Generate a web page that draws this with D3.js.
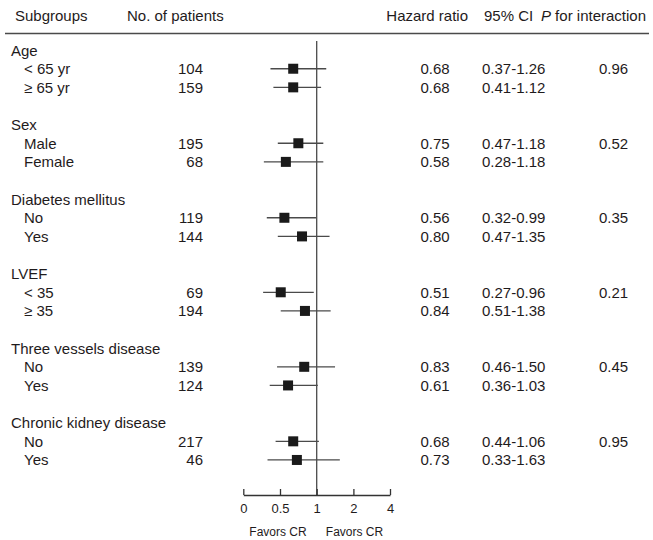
<!DOCTYPE html>
<html>
<head>
<meta charset="utf-8">
<script src="https://cdn.jsdelivr.net/npm/d3@7"></script>
<style>
  html, body { margin: 0; padding: 0; background: #fff; }
  svg text { font-family: "Liberation Sans", Arial, Helvetica, sans-serif; fill: #1f1b1c; }
</style>
</head>
<body>
<svg id="chart" width="653" height="540"></svg>
<script>
// ---- Data ----
const groups = ["Age", "Sex", "Diabetes mellitus", "LVEF", "Three vessels disease", "Chronic kidney disease"];
const pInteraction = ["0.96", "0.52", "0.35", "0.21", "0.45", "0.95"];
const subgroups = ["< 65 yr", "\u2265 65 yr", "Male", "Female", "No", "Yes", "< 35", "\u2265 35", "No", "Yes", "No", "Yes"];
const patients = [104, 159, 195, 68, 119, 144, 69, 194, 139, 124, 217, 46];
const hazardRatio = [0.68, 0.68, 0.75, 0.58, 0.56, 0.80, 0.51, 0.84, 0.83, 0.61, 0.68, 0.73];
const ciLow = [0.37, 0.41, 0.47, 0.28, 0.32, 0.47, 0.27, 0.51, 0.46, 0.36, 0.44, 0.33];
const ciHigh = [1.26, 1.12, 1.18, 1.18, 0.99, 1.35, 0.96, 1.38, 1.50, 1.03, 1.06, 1.63];
const tickValues = [0, 0.5, 1, 2, 4];
const tickLabels = ["0", "0.5", "1", "2", "4"];
const favorLabels = ["Favors CR", "Favors CR"];

// ---- Layout ----
const svg = d3.select("#chart");
const x = d3.scaleLinear().domain(tickValues).range([243.3, 280, 316.7, 353.4, 390]);
// row index -> text baseline
const rowBase = d3.scaleLinear().domain([0, 1]).range([55.6, 55.6 + 18.63]);
const markOffset = -5.5;

// Header
const hdr = svg.append("g").attr("font-size", 15);
hdr.append("text").attr("x", 15).attr("y", 21).text("Subgroups");
hdr.append("text").attr("x", 127).attr("y", 21).text("No. of patients");
hdr.append("text").attr("x", 468).attr("y", 21).attr("text-anchor", "end").text("Hazard ratio");
hdr.append("text").attr("x", 484).attr("y", 21).text("95% CI");
const pt = hdr.append("text").attr("x", 646).attr("y", 21).attr("text-anchor", "end");
pt.append("tspan").attr("font-style", "italic").text("P");
pt.append("tspan").text(" for interaction");

svg.append("line").attr("x1", 5).attr("x2", 649).attr("y1", 33.5).attr("y2", 33.5)
  .attr("stroke", "#4a4a4a").attr("stroke-width", 1.4);

// Reference line at HR = 1
svg.append("line").attr("x1", x(1)).attr("x2", x(1)).attr("y1", 41).attr("y2", 495)
  .attr("stroke", "#4a4a4a").attr("stroke-width", 1.3);

// Group labels & p values
groups.forEach((g, gi) => {
  const r = gi * 4;
  svg.append("text").attr("x", 11).attr("y", rowBase(r)).attr("font-size", 15).text(g);
  svg.append("text").attr("x", 599).attr("y", rowBase(r + 1)).attr("font-size", 15).text(pInteraction[gi]);
});

// Subgroup rows
subgroups.forEach((s, i) => {
  const r = Math.floor(i / 2) * 4 + (i % 2) + 1;
  const yb = rowBase(r);
  const ym = yb + markOffset;
  svg.append("text").attr("x", 24).attr("y", yb).attr("font-size", 15).text(s);
  svg.append("text").attr("x", 203).attr("y", yb).attr("font-size", 15).attr("text-anchor", "end").text(patients[i]);
  svg.append("text").attr("x", 420.5).attr("y", yb).attr("font-size", 15).text(hazardRatio[i].toFixed(2));
  svg.append("text").attr("x", 482).attr("y", yb).attr("font-size", 15)
    .text(ciLow[i].toFixed(2) + "-" + ciHigh[i].toFixed(2));
  svg.append("line").attr("x1", x(ciLow[i])).attr("x2", x(ciHigh[i])).attr("y1", ym).attr("y2", ym)
    .attr("stroke", "#4a4a4a").attr("stroke-width", 1.3);
  svg.append("rect").attr("x", x(hazardRatio[i]) - 5).attr("y", ym - 5).attr("width", 10).attr("height", 10)
    .attr("fill", "#1a1a1a");
});

// Axis
const axis = d3.axisBottom(x).tickValues(tickValues).tickFormat((d, i) => tickLabels[i])
  .tickSize(-6).tickSizeOuter(0).tickPadding(9);
const ag = svg.append("g").attr("transform", "translate(0,495)").call(axis);
ag.select(".domain").attr("stroke", "#333").attr("stroke-width", 1.3);
ag.selectAll(".tick line").attr("stroke", "#333").attr("stroke-width", 1.3);
ag.selectAll(".tick text").attr("font-size", 13).attr("font-family", "Liberation Sans, Arial, sans-serif").attr("fill", "#1f1b1c");

// Favors labels
svg.append("text").attr("x", 278).attr("y", 535.5).attr("font-size", 12).attr("text-anchor", "middle").text(favorLabels[0]);
svg.append("text").attr("x", 354.5).attr("y", 535.5).attr("font-size", 12).attr("text-anchor", "middle").text(favorLabels[1]);
</script>
</body>
</html>
